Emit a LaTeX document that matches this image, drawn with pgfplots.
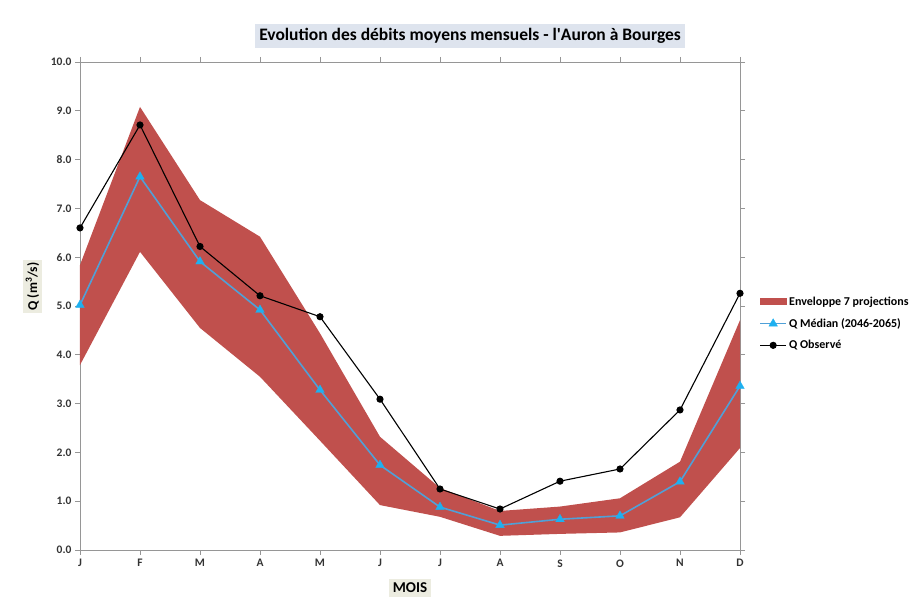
\documentclass[border=0pt]{standalone}
\usepackage{fontspec}
\setmainfont{Carlito}
\usepackage{pgfplots}
\pgfplotsset{compat=1.18}
\definecolor{env}{RGB}{192,80,77}
\definecolor{medline}{RGB}{80,160,215}
\definecolor{medmark}{RGB}{30,176,240}
\definecolor{titlebg}{RGB}{222,228,238}
\definecolor{labbg}{RGB}{236,236,224}
\definecolor{axgray}{RGB}{150,150,150}
\begin{document}
\begin{tikzpicture}[x=1pt,y=1pt]
\useasboundingbox (0,0) rectangle (913,605);
\begin{axis}[
  at={(80pt,55pt)}, anchor=south west,
  scale only axis, width=660pt, height=488pt,
  xmin=0, xmax=11, ymin=0, ymax=10,
  xtick={0,...,11},
  xticklabels={J,F,M,A,M,J,J,A,S,O,N,D},
  ytick={0,1,...,10},
  yticklabel style={/pgf/number format/.cd,fixed,fixed zerofill,precision=1},
  /pgf/number format/assume math mode=true,
  ticklabel style={font=\fontsize{11.5}{13}\selectfont\bfseries, text=black!80},
  tick align=outside, major tick length=5pt,
  tick style={axgray, line width=0.8pt},
  axis line style={axgray, line width=0.9pt},
  xticklabel style={yshift=-1pt},
  title={Evolution des débits moyens mensuels - l\textquotesingle Auron à Bourges},
  title style={at={(0.591,1)}, anchor=center, yshift=20pt, fill=titlebg, inner xsep=4pt, inner ysep=4pt, font=\fontsize{17.5}{20}\selectfont\bfseries},
  xlabel={MOIS},
  xlabel style={at={(axis description cs:0.5,-0.078)}, anchor=center, fill=labbg, inner sep=4pt, font=\fontsize{15}{17}\selectfont\bfseries},
  ylabel={Q (m\textsuperscript{3}/s)},
  ylabel style={at={(axis description cs:-0.072,0.54)}, anchor=center, rotate=0, fill=labbg, inner sep=3pt, font=\fontsize{13.5}{15}\selectfont\bfseries},
  legend style={at={(1.026,0.527)}, anchor=north west, draw=none, fill=none,
    font=\fontsize{12}{14}\selectfont\bfseries, row sep=7.5pt, cells={anchor=west}, inner xsep=2pt},
  legend image code/.code={\draw[mark repeat=2,mark phase=2] plot coordinates {(0pt,0pt)(13pt,0pt)(26pt,0pt)};},
  legend cell align=left,
  clip=false,
]
\addplot[fill=env, draw=none, legend image code/.code={\fill[env] (0pt,-3.5pt) rectangle (27pt,3.5pt);}] coordinates {
 (0,5.84) (1,9.08) (2,7.17) (3,6.42) (4,4.44) (5,2.32) (6,1.27) (7,0.80) (8,0.89) (9,1.06) (10,1.81) (11,4.71)
 (11,2.09) (10,0.67) (9,0.36) (8,0.33) (7,0.29) (6,0.68) (5,0.92) (4,2.24) (3,3.55) (2,4.55) (1,6.11) (0,3.79)
} -- cycle;
\addlegendentry{Enveloppe 7 projections}
\addplot[medline, line width=1.6pt, mark=triangle*, mark size=5pt, mark options={fill=medmark, draw=medmark, line width=0.3pt}] coordinates {
 (0,5.02) (1,7.65) (2,5.91) (3,4.92) (4,3.28) (5,1.74) (6,0.88) (7,0.51) (8,0.63) (9,0.70) (10,1.40) (11,3.36)
};
\addlegendentry{Q Médian (2046-2065)}
\addplot[black, line width=1.1pt, mark=*, mark size=3pt, mark options={fill=black}] coordinates {
 (0,6.60) (1,8.71) (2,6.22) (3,5.21) (4,4.78) (5,3.09) (6,1.25) (7,0.84) (8,1.41) (9,1.66) (10,2.87) (11,5.26)
};
\addlegendentry{Q Observé}
\end{axis}
\end{tikzpicture}
\end{document}
